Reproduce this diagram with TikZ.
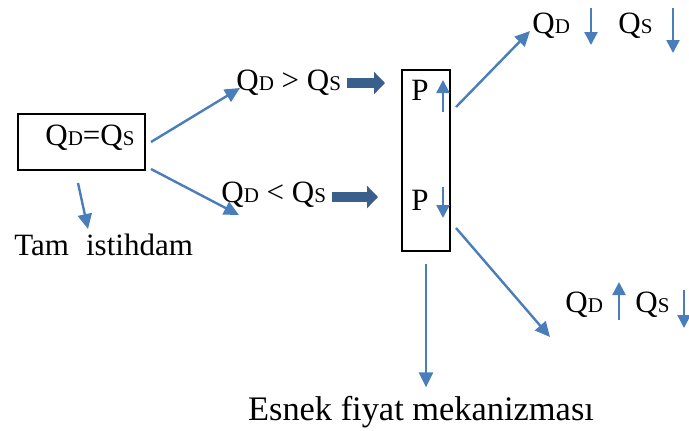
\documentclass[tikz,border=0pt]{standalone}
\usepackage{fontspec}
\setmainfont{Liberation Serif}
\usetikzlibrary{arrows.meta}

\definecolor{lineblue}{HTML}{4A7EBB}
\definecolor{darkblue}{HTML}{3B5F8C}

% Q with a small capital on the baseline
\newcommand{\smallsub}[1]{{\fontsize{10.5}{12}\selectfont #1}}
\newcommand{\QD}{Q\smallsub{D}}
\newcommand{\QS}{Q\smallsub{S}}

\begin{document}
\begin{tikzpicture}[x=0.5pt,y=-0.5pt,
                    arrow/.style = {draw=lineblue,line width=1.2pt,-{Triangle[length=7.5pt,width=7pt]}},
                    small/.style = {draw=lineblue,line width=1.2pt,-{Triangle[length=6.5pt,width=6.5pt]}},
                    fat/.style = {draw=darkblue,line width=5pt,-{Triangle[length=5.5pt,width=11pt]}},
                    txt/.style = {inner sep=0pt,anchor=base west,font=\fontsize{15.5}{18}\selectfont},
                    box/.style = {draw,line width=1pt,inner sep=0pt}]
    \useasboundingbox (0,0) rectangle (689,430);

    % boxes
    \node[box,minimum width=63.5pt,minimum height=28pt] (eq) at (81.5,142) {};
    \node[box,minimum width=24pt,minimum height=90.5pt] (pbox) at (426,160.5) {};

    % texts
    \node[txt] (eqtxt) at (45,145) {\QD=\QS};
    \node[txt] (tam) at (14,255) {Tam\hspace{.55em}istihdam};
    \node[txt] (gt) at (236,90) {\QD{} > \QS};
    \node[txt] (lt) at (221,202) {\QD{} < \QS};
    \node[txt] (p1) at (411,100) {P};
    \node[txt] (p2) at (411,210) {P};
    \node[txt] (qd1) at (532,33) {\QD};
    \node[txt] (qs1) at (618,33) {\QS};
    \node[txt] (qd2) at (565,312) {\QD};
    \node[txt] (qs2) at (635,312) {\QS};
    \node[txt,anchor=base,font=\fontsize{17.2}{20}\selectfont] (esnek) at (421,420) {Esnek fiyat mekanizması};

    % from the equilibrium box
    \draw[arrow] ([xshift=2.5pt]eq.east) -- ([shift={(2pt,1pt)}]gt.base west);
    \draw[arrow] ([shift={(2.5pt,1pt)}]eq.south east) -- ([shift={(9pt,-6.5pt)}]lt.base west);
    \draw[arrow] ([shift={(-1.75pt,-6pt)}]eq.south) -- ([shift={(37pt,13pt)}]tam.base west);

    % into the price box
    \draw[fat] ([shift={(3pt,3.5pt)}]gt.base east) -- ([shift={(-13pt,8.5pt)}]p1.base west);
    \draw[fat] ([shift={(2.75pt,2.5pt)}]lt.base east) -- ([shift={(-16.5pt,6.5pt)}]p2.base west);

    % price up / down
    \draw[small] ([shift={(16pt,-6pt)}]p1.base west) -- ([shift={(16pt,10pt)}]p1.base west);
    \draw[small] ([shift={(16pt,11.5pt)}]p2.base west) -- ([shift={(16pt,-4pt)}]p2.base west);

    % out of the price box
    \draw[arrow] ([shift={(2.5pt,-19pt)}]pbox.north east) -- ([shift={(-1pt,1pt)}]qd1.base west);
    \draw[arrow] ([shift={(2.5pt,12pt)}]pbox.south east) -- ([shift={(-7.5pt,-12.5pt)}]qd2.base west);
    \draw[arrow] ([yshift=-6pt]pbox.south) -- ([yshift=4pt]esnek.north -| pbox.south);

    % quantities up / down
    \draw[small] ([shift={(29.5pt,12.5pt)}]qd1.base west) -- ([shift={(29.5pt,-6pt)}]qd1.base west);
    \draw[small] ([shift={(27.5pt,12.5pt)}]qs1.base west) -- ([shift={(27.5pt,-10pt)}]qs1.base west);
    \draw[small] ([shift={(27pt,-4pt)}]qd2.base west) -- ([shift={(27pt,15pt)}]qd2.base west);
    \draw[small] ([shift={(24.5pt,11pt)}]qs2.base west) -- ([shift={(24.5pt,-8pt)}]qs2.base west);
\end{tikzpicture}
\end{document}
